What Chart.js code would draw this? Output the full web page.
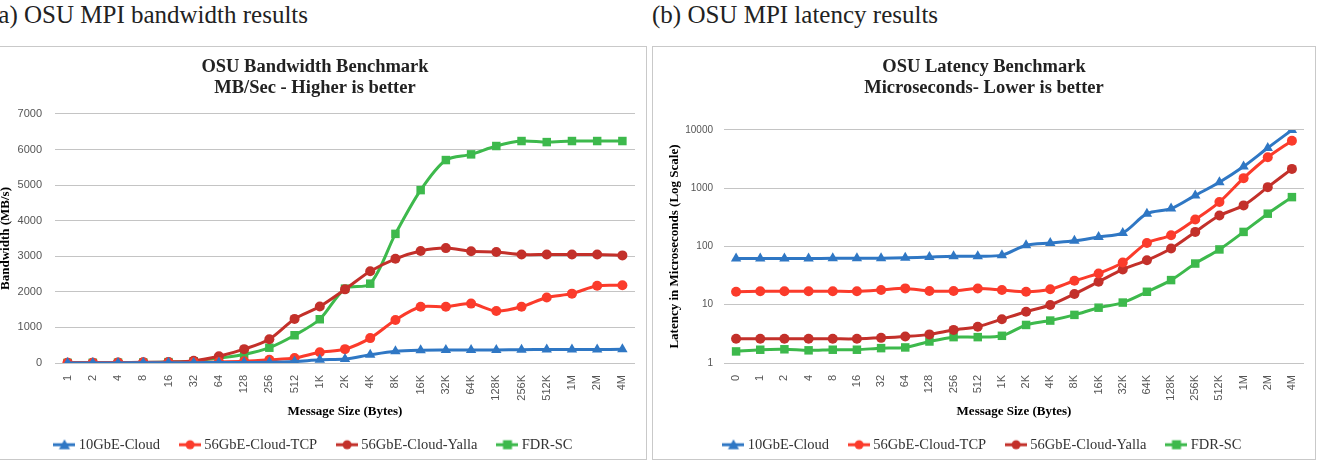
<!DOCTYPE html>
<html>
<head>
<meta charset="utf-8">
<script src="https://cdn.jsdelivr.net/npm/chart.js@4"></script>
<style>
  body { margin: 0; background: #fff; width: 1320px; height: 462px; overflow: hidden; position: relative; }
  .cap { position: absolute; top: 1px; font: 25px "Liberation Serif", serif; color: #222; white-space: nowrap; }
  canvas { position: absolute; top: 47px; }
  .frame { position: absolute; top: 46px; width: 664px; height: 414px; box-sizing: border-box; border: 1px solid #c9c9c9; pointer-events: none; }
</style>
</head>
<body>
<div class="cap" style="left:-10px">(a) OSU MPI bandwidth results</div>
<div class="cap" style="left:652px">(b) OSU MPI latency results</div>
<canvas id="bw" width="662" height="420" style="left:-16px"></canvas>
<canvas id="lat" width="662" height="420" style="left:653px"></canvas>
<div class="frame" style="left:-17px"></div>
<div class="frame" style="left:652px"></div>
<script>
// series names + colours
const seriesNames = ['10GbE-Cloud', '56GbE-Cloud-TCP', '56GbE-Cloud-Yalla', 'FDR-SC'];
const seriesColors = ['#2f77c4', '#fb3b2b', '#c3302a', '#3db94c'];
const seriesMarkers = ['triangle', 'circle', 'circle', 'rect'];

// bandwidth chart (MB/s)
const bwSizes = ['1','2','4','8','16','32','64','128','256','512','1K','2K','4K','8K','16K','32K','64K','128K','256K','512K','1M','2M','4M'];
const bw10GbE = [1, 2, 3, 5, 8, 10, 12, 15, 20, 40, 90, 110, 230, 330, 360, 365, 365, 365, 375, 380, 380, 380, 385];
const bwTCP   = [5, 8, 10, 12, 15, 20, 30, 50, 90, 140, 300, 390, 700, 1210, 1580, 1580, 1670, 1460, 1580, 1840, 1950, 2170, 2185];
const bwYalla = [5, 8, 12, 18, 30, 60, 190, 390, 670, 1240, 1590, 2070, 2580, 2930, 3150, 3230, 3140, 3120, 3050, 3050, 3050, 3050, 3025];
const bwFDR   = [5, 8, 10, 15, 25, 50, 140, 240, 430, 780, 1230, 2090, 2230, 3630, 4860, 5705, 5865, 6100, 6240, 6210, 6240, 6240, 6240];

// latency chart (microseconds, log)
const latSizes = ['0','1','2','4','8','16','32','64','128','256','512','1K','2K','4K','8K','16K','32K','64K','128K','256K','512K','1M','2M','4M'];
const lat10GbE = [62, 62, 62, 62, 63, 63, 63, 64, 66, 68, 68, 71, 105, 115, 125, 146, 171, 366, 447, 754, 1270, 2360, 4920, 10000];
const latTCP   = [16.7, 17, 17, 17, 17, 17, 17.9, 19.1, 17.2, 17.2, 19, 17.9, 16.7, 18.4, 25.8, 34.5, 53, 115, 156, 290, 579, 1490, 3400, 6560];
const latYalla = [2.6, 2.6, 2.6, 2.6, 2.6, 2.6, 2.7, 2.85, 3.1, 3.7, 4.2, 5.65, 7.6, 9.9, 15.3, 24.8, 40.4, 58, 92.5, 178, 340, 508, 1045, 2150];
const latFDR   = [1.58, 1.69, 1.72, 1.65, 1.69, 1.69, 1.8, 1.85, 2.34, 2.78, 2.78, 2.93, 4.5, 5.35, 6.7, 8.9, 10.9, 16.7, 26.5, 51, 89, 178, 366, 704];
const latTicks = [1, 10, 100, 1000, 10000];

const serif = '"Liberation Serif", "Times New Roman", serif';
const sans = '"Liberation Sans", Arial, sans-serif';

// little line+marker icon for the legend, excel style
function legendIcon(color, marker) {
  const c = document.createElement('canvas');
  c.width = 22; c.height = 12;
  const g = c.getContext('2d');
  g.strokeStyle = color; g.fillStyle = color; g.lineWidth = 3;
  g.beginPath(); g.moveTo(0, 6); g.lineTo(22, 6); g.stroke();
  g.beginPath();
  if (marker === 'triangle') { g.moveTo(11, 0.5); g.lineTo(16.5, 10.5); g.lineTo(5.5, 10.5); g.closePath(); g.fill(); }
  else if (marker === 'circle') { g.arc(11, 6, 4.5, 0, Math.PI * 2); g.fill(); }
  else { g.fillRect(6.5, 1.5, 9, 9); }
  return c;
}
const icons = seriesColors.map((c, i) => legendIcon(c, seriesMarkers[i]));

function makeDatasets(values) {
  return values.map((vals, i) => ({
    label: seriesNames[i],
    data: vals,
    borderColor: seriesColors[i],
    backgroundColor: seriesColors[i],
    borderWidth: 3,
    tension: 0.3,
    pointStyle: seriesMarkers[i],
    pointRadius: seriesMarkers[i] === 'circle' ? 5 : 6,
    pointBorderWidth: 0
  }));
}

function makeOptions(titleLines, titleGap, yScale, yTitle, tickSize, tickPad) {
  yScale.title = { display: true, text: yTitle, color: '#000', font: { family: serif, size: 13, weight: 'bold' }, padding: { top: 14, bottom: 4 } };
  yScale.grid = { color: '#c4c4c4', drawTicks: false };
  yScale.border = { display: false };
  yScale.ticks = Object.assign({ color: '#555', padding: tickPad, font: { family: sans, size: tickSize } }, yScale.ticks || {});
  yScale.afterFit = s => { s.width = 71; };
  return {
    responsive: false,
    animation: false,
    layout: { padding: { left: 0, right: 0, top: 0, bottom: 5 } },
    plugins: {
      title: { display: true, text: titleLines, color: '#222', font: { family: serif, size: 18.5, weight: 'bold', lineHeight: 1.135 }, padding: { top: 10, bottom: titleGap } },
      legend: {
        position: 'bottom',
        labels: {
          usePointStyle: true,
          pointStyleWidth: 14,
          padding: 23,
          color: '#333',
          font: { family: serif, size: 14.5 },
          generateLabels: chart => Chart.defaults.plugins.legend.labels.generateLabels(chart).map(item => {
            item.pointStyle = icons[item.datasetIndex];
            return item;
          })
        }
      },
      tooltip: { enabled: false }
    },
    scales: {
      x: {
        offset: true,
        grid: { display: false },
        border: { display: false },
        ticks: { color: '#555', minRotation: 90, maxRotation: 90, autoSkip: false, padding: 4, font: { family: sans, size: 11 } },
        title: { display: true, text: 'Message Size (Bytes)', color: '#000', font: { family: serif, size: 13, weight: 'bold' }, padding: { top: 4, bottom: -4.5 } },
        // pin the plot bottom so both charts line up like the original
        afterFit: s => { s.height = 415 - s.chart.legend.height - 316; }
      },
      y: yScale,
      // empty strip on the right so title/legend stay centred on the box
      yR: { position: 'right', grid: { display: false }, border: { display: false }, ticks: { display: false }, afterFit: s => { s.width = 11; } }
    }
  };
}

new Chart(document.getElementById('bw'), {
  type: 'line',
  data: { labels: bwSizes, datasets: makeDatasets([bw10GbE, bwTCP, bwYalla, bwFDR]) },
  options: makeOptions(['OSU Bandwidth Benchmark', 'MB/Sec - Higher is better'], 15,
    { type: 'linear', min: 0, max: 7000, ticks: { stepSize: 1000, callback: v => String(v) } },
    'Bandwidth (MB/s)', 11, 13)
});

new Chart(document.getElementById('lat'), {
  type: 'line',
  data: { labels: latSizes, datasets: makeDatasets([lat10GbE, latTCP, latYalla, latFDR]) },
  options: makeOptions(['OSU Latency Benchmark', 'Microseconds- Lower is better'], 31,
    { type: 'logarithmic', min: 1, max: 10000,
      afterBuildTicks: s => { s.ticks = latTicks.map(v => ({ value: v })); },
      ticks: { callback: v => String(v) } },
    'Latency in Microseconds (Log Scale)', 10, 11)
});
</script>
</body>
</html>
